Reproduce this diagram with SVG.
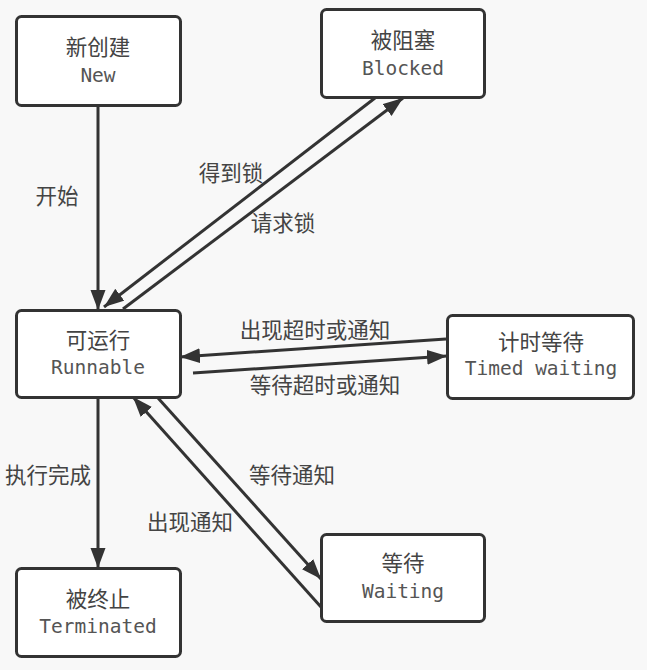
<svg xmlns="http://www.w3.org/2000/svg" width="647" height="670" viewBox="0 0 647 670">
<style>
.node rect{fill:#fff;stroke:#333;stroke-width:3}
.cn{font-family:"Noto Sans CJK SC","Noto Sans",sans-serif;font-size:21.5px;fill:#444;text-anchor:middle}
.en{font-family:"DejaVu Sans Mono","Liberation Mono",monospace;font-size:19.5px;fill:#555;text-anchor:middle}
.lbl{font-family:"Noto Sans CJK SC","Noto Sans",sans-serif;font-size:21.5px;fill:#444;text-anchor:middle}
#edges line{stroke:#333;stroke-width:3;marker-end:url(#ah)}
</style>
<defs>
<marker id="ah" markerUnits="userSpaceOnUse" markerWidth="22" markerHeight="16" refX="20" refY="7.5" orient="auto">
<path d="M0,0 L20,7.5 L0,15 z" fill="#333"/>
</marker>
</defs>
<rect width="647" height="670" fill="#f8f8f8"/>
<g id="edges">
<line x1="98" y1="106" x2="98" y2="310"/>
<line x1="375" y1="98" x2="104" y2="307"/>
<line x1="123" y1="309" x2="403" y2="98"/>
<line x1="446" y1="339" x2="180" y2="357"/>
<line x1="193" y1="373" x2="447" y2="356"/>
<line x1="98" y1="398" x2="98" y2="568"/>
<line x1="158" y1="398" x2="321" y2="579"/>
<line x1="321" y1="607" x2="133" y2="397"/>
</g>
<g id="labels">
<text class="lbl" x="57" y="204">开始</text>
<text class="lbl" x="231" y="181">得到锁</text>
<text class="lbl" x="283" y="231">请求锁</text>
<text class="lbl" x="315" y="338">出现超时或通知</text>
<text class="lbl" x="325" y="393">等待超时或通知</text>
<text class="lbl" x="48" y="483">执行完成</text>
<text class="lbl" x="292" y="483">等待通知</text>
<text class="lbl" x="190" y="530">出现通知</text>
</g>
<g id="new" class="node">
<rect x="16.5" y="16.5" width="164" height="89" rx="5"/>
<text class="cn" x="98" y="55">新创建</text>
<text class="en" x="98" y="82">New</text>
</g>
<g id="blocked" class="node">
<rect x="321.5" y="9.5" width="163" height="88" rx="5"/>
<text class="cn" x="403" y="48">被阻塞</text>
<text class="en" x="403" y="75">Blocked</text>
</g>
<g id="runnable" class="node">
<rect x="16.5" y="310.5" width="164" height="87" rx="5"/>
<text class="cn" x="98" y="348">可运行</text>
<text class="en" x="98" y="374">Runnable</text>
</g>
<g id="timed" class="node">
<rect x="447.5" y="315.5" width="186" height="83" rx="5"/>
<text class="cn" x="541" y="350">计时等待</text>
<text class="en" x="541" y="375">Timed waiting</text>
</g>
<g id="waiting" class="node">
<rect x="321.5" y="534.5" width="163" height="87" rx="5"/>
<text class="cn" x="403" y="571">等待</text>
<text class="en" x="403" y="598">Waiting</text>
</g>
<g id="terminated" class="node">
<rect x="16.5" y="568.5" width="164" height="88" rx="5"/>
<text class="cn" x="98" y="607">被终止</text>
<text class="en" x="98" y="633">Terminated</text>
</g>
</svg>
